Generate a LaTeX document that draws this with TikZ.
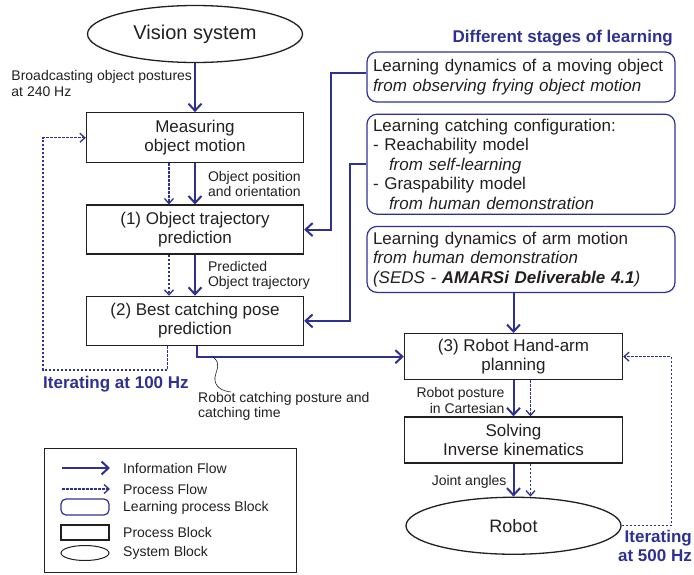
\documentclass[tikz,border=0pt]{standalone}
\usepackage{fontspec}
\setmainfont{Liberation Sans}
\usepackage{xcolor}
\usetikzlibrary{positioning, arrows.meta, shapes.geometric}

\definecolor{amblue}{RGB}{46,49,146}
\definecolor{ink}{RGB}{35,31,32}

\begin{document}
\begin{tikzpicture}[x=1pt, y=1pt, >={Straight Barb[length=7pt,width=13pt]},
    every node/.append style={text=ink},
    procbox/.style={draw=ink, line width=1.3pt, minimum width=217pt, minimum height=49pt, align=center, font=\fontsize{17}{19}\selectfont},
    learnbox/.style={draw=amblue, line width=1.2pt, rounded corners=10pt, text width=296pt, inner xsep=6pt, inner ysep=2pt, align=left, font=\fontsize{17}{19.5}\selectfont},
    sysnode/.style={draw=ink, ellipse, line width=1.3pt, minimum width=215pt, minimum height=57pt, inner sep=0pt, font=\fontsize{20}{22}\selectfont},
    info/.style={->, draw=amblue, line width=2pt},
    proc/.style={-{Straight Barb[length=5pt,width=9pt]}, draw=amblue, line width=1.3pt, dash pattern=on 2.5pt off 1.5pt},
    lbl/.style={font=\fontsize{14}{15.5}\selectfont, inner sep=2pt},
    iter/.style={font=\bfseries\fontsize{17}{19}\selectfont, text=amblue, inner sep=0pt}]
    \useasboundingbox (0,0) rectangle (694,-574);

    % Process chain
    \node (vision) [sysnode] at (195,-34) {Vision system};
    \node (measure) [procbox, below=49pt of vision, minimum height=50pt] {Measuring\\object motion};
    \node (traj) [procbox, below=41pt of measure] {(1) Object trajectory\\prediction};
    \node (pose) [procbox, below=41pt of traj] {(2) Best catching pose\\prediction};

    % Learning blocks
    \node (stages) [iter, anchor=south east] at (673,-46) {Different stages of learning};
    \node (learn1) [learnbox, minimum height=50pt] at (521,-77) {Learning dynamics of a moving object\\\textit{from observing frying object motion}};
    \node (learn2) [learnbox, below=11pt of learn1, minimum height=100pt] {Learning catching configuration:\\- Reachability model\\\hspace*{16pt}\textit{from self-learning}\\- Graspability model\\\hspace*{16pt}\textit{from human demonstration}};
    \node (learn3) [learnbox, below=11pt of learn2, minimum height=66pt] {Learning dynamics of arm motion\\\textit{from human demonstration}\\\textit{(SEDS - \textbf{AMARSi Deliverable 4.1})}};

    \node (plan) [procbox, below=40pt of learn3, xshift=-7.5pt, minimum width=218pt, minimum height=46pt] {(3) Robot Hand-arm\\planning};
    \node (solve) [procbox, below=36pt of plan, minimum width=218pt, minimum height=46pt] {Solving\\Inverse kinematics};
    \node (robot) [sysnode, below=33pt of solve, font=\fontsize{18}{20}\selectfont] {Robot};

    % Information flow
    \draw[info] (vision) -- node (bcast) [lbl, left, align=left, yshift=4pt] {Broadcasting object postures\\at 240 Hz} (measure);
    \draw[info] (measure) -- node (posori) [lbl, right, align=left, xshift=10pt] {Object position\\and orientation} (traj);
    \draw[info] (traj) -- node (predtraj) [lbl, right, align=left, xshift=10pt] {Predicted\\Object trajectory} (pose);
    \draw[info] ([xshift=2pt]pose.south) |- (plan.west);
    \draw[info] (plan) -- node (cart) [lbl, left, align=right, xshift=-6pt, yshift=-2pt] {Robot posture\\in Cartesian} (solve);
    \draw[info] (solve) -- node (joint) [lbl, left, xshift=-4pt, yshift=-2pt] {Joint angles} (robot);

    \draw[info] ([yshift=4pt]learn1.west) -| ([xshift=27pt]traj.east) -- (traj.east);
    \draw[info] (learn2.west) -| ([xshift=46pt]pose.east) -- (pose.east);
    \draw[info] (learn3.south -| plan.north) -- (plan.north);

    % Process flow
    \draw[proc] ([xshift=-26pt]measure.south) -- ([xshift=-26pt]traj.north);
    \draw[proc] ([xshift=-26pt]traj.south) -- ([xshift=-26pt]pose.north);
    \coordinate (loop100) at (43,-370);
    \draw[proc] ([xshift=-27.5pt]pose.south) |- (loop100) |- (measure.west);
    \node (iter100) [iter, anchor=north west] at (43,-376) {Iterating at 100 Hz};

    \draw[proc] ([xshift=17pt]plan.south) -- ([xshift=17pt]solve.north);
    \draw[proc] ([xshift=17pt]solve.south) -- ([xshift=17pt]robot.north);
    \draw[proc] (robot.east) -| ([xshift=48pt]plan.east) -- (plan.east);
    \node (iter500) [iter, anchor=north east, align=right] at (692,-530) {Iterating\\at 500 Hz};

    % Catching output note
    \node (catch) [lbl, anchor=north west, align=left, inner sep=0pt] at (198,-392) {Robot catching posture and\\catching time};
    \coordinate (tap) at (213,-357);
    \draw[ink, line width=0.6pt] (tap) .. controls (222,-364) and (216,-370) .. (215,-377)
        .. controls (214,-387) and (222,-391) .. ([xshift=33pt]catch.north west);

    % Legend
    \node (legend) [draw=ink, line width=0.8pt, minimum width=252pt, minimum height=124pt, inner sep=0pt] at (170,-510) {};
    \coordinate (lgA1) at (62,-468);
    \coordinate (lgA2) at (110,-468);
    \draw[info] (lgA1) -- (lgA2);
    \node (lgInfo) [lbl, anchor=west, inner sep=0pt] at (123,-468) {Information Flow};
    \coordinate (lgB1) at (62,-489);
    \coordinate (lgB2) at (110,-489);
    \draw[proc] (lgB1) -- (lgB2);
    \node (lgProc) [lbl, anchor=west, inner sep=0pt] at (123,-489) {Process Flow};
    \node (lgLearnBox) [draw=amblue, line width=1.2pt, rounded corners=5pt, minimum width=48pt, minimum height=16pt, inner sep=0pt] at (85,-507) {};
    \node (lgLearn) [lbl, anchor=west, inner sep=0pt] at (123,-508) {Learning process Block};
    \node (lgProcBox) [draw=ink, line width=1.3pt, minimum width=48pt, minimum height=15pt, inner sep=0pt] at (85,-532.5) {};
    \node (lgProcTxt) [lbl, anchor=west, inner sep=0pt] at (123,-532) {Process Block};
    \node (lgSysBox) [draw=ink, ellipse, line width=1pt, minimum width=48pt, minimum height=15pt, inner sep=0pt] at (85,-553) {};
    \node (lgSys) [lbl, anchor=west, inner sep=0pt] at (123,-553) {System Block};

\end{tikzpicture}
\end{document}
